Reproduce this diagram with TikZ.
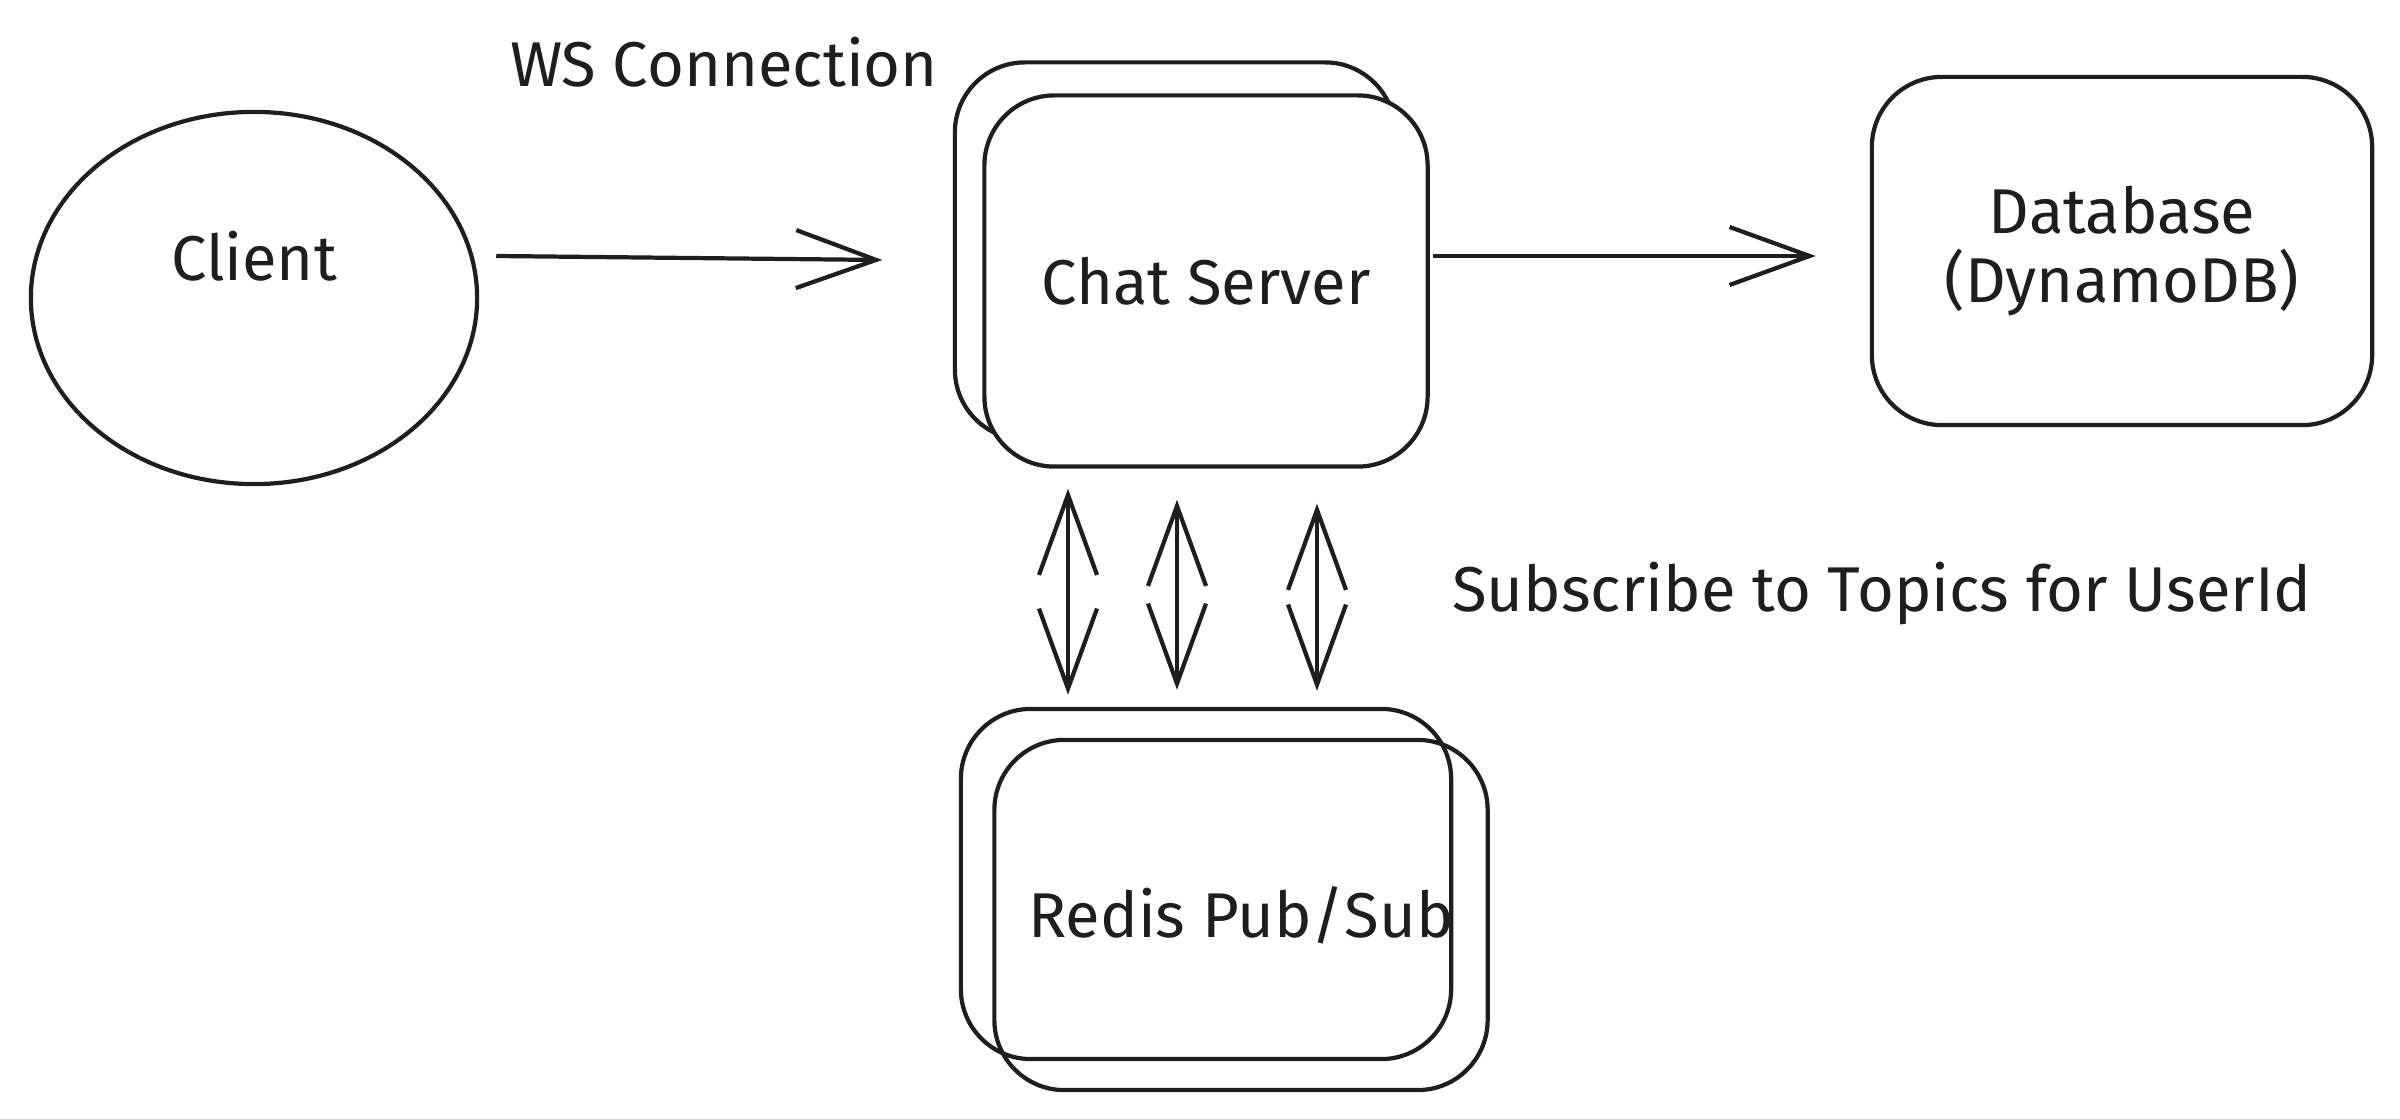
\documentclass[tikz,border=0pt]{standalone}
\usepackage{fontspec}
\setmainfont{Fira Sans}
\usepackage{tikz}
\usetikzlibrary{arrows.meta,calc,shapes.geometric,positioning}
\definecolor{ink}{HTML}{1E1E1E}

\tikzset{
  blob/.style={ellipse, draw=ink, inner sep=0pt},
  tile/.style={rectangle, draw=ink, rounded corners=7mm, inner sep=0pt, align=center},
  txt/.style={inner sep=0pt, text=ink}
}

\begin{document}
\begin{tikzpicture}[x=0.01cm, y=-0.01cm, line width=1.2pt, color=ink,
    >={Straight Barb[length=8mm,width=5.8mm]},
    font=\fontsize{18}{19.5}\selectfont]
  \useasboundingbox (0,0) rectangle (2400,1119);

  \node[blob, minimum width=4.46cm, minimum height=3.72cm,
        label={[txt, yshift=4.2mm]center:Client}] (client) at (254,298) {};

  \node[tile, minimum width=4.4cm, minimum height=3.77cm] (server_bk) at (1175,251) {};
  \node[tile, fill=white, minimum width=4.43cm, minimum height=3.71cm] (server) at (1206,281) {Chat Server};

  \node[tile, minimum width=5.0cm, minimum height=3.48cm] (db) at (2122,251) {Database\\(DynamoDB)};

  \node[tile, minimum width=4.9cm, minimum height=3.5cm] (redis_a) at (1206,884) {};
  \node[tile, minimum width=4.93cm, minimum height=3.5cm] (redis_b) at (1241,915) {Redis Pub/Sub};

  \node[txt] (ws_lbl) at (724,62) {WS Connection};
  \node[txt] (sub_lbl) at (1882,594) {Subscribe to Topics for UserId};

  \draw[->] ($(client.east)+(17,-42)$) -- ($(server.west)+(-100,-21)$);
  \draw[->] ($(server.east)+(3,-25)$) -- ($(db.west)+(-54,5)$);

  \draw[<->] ($(server.south)+(-138,20)$) -- ($(redis_a.north)+(-138,-12)$);
  \draw[<->] ($(server.south)+(-29,31)$) -- ($(redis_a.north)+(-29,-17)$);
  \draw[<->] ($(server.south)+(111,35)$) -- ($(redis_a.north)+(111,-16)$);
\end{tikzpicture}
\end{document}
